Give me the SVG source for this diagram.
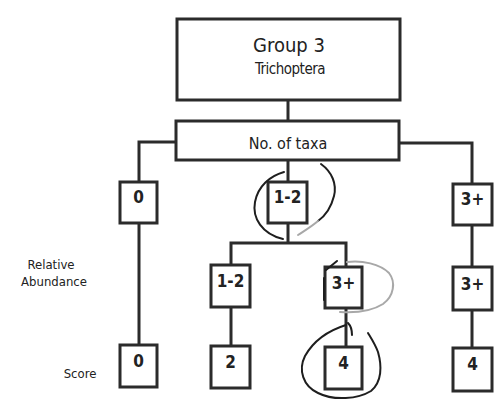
<svg xmlns="http://www.w3.org/2000/svg" width="502" height="405" viewBox="0 0 502 405">
<style>
.box{fill:#fff;stroke:#2b2b2b;stroke-width:3}
.ln{fill:none;stroke:#2b2b2b;stroke-width:3}
text{font-family:"DejaVu Sans Condensed","Liberation Sans Narrow","Liberation Sans",sans-serif;fill:#222;text-anchor:middle}
.num{font-size:17px;font-weight:bold}
.lbl{font-size:13px}
.ann{fill:none;stroke:#1e1e1e;stroke-width:2;stroke-linecap:round}
.ann2{fill:none;stroke:#a8a8a8;stroke-width:2;stroke-linecap:round}
</style>
<rect width="502" height="405" fill="#fff"/>
<g id="connectors">
<path class="ln" d="M288 100V121"/>
<path class="ln" d="M176 142H139V345"/>
<path class="ln" d="M288 160V182"/>
<path class="ln" d="M399 143H472V184"/>
<path class="ln" d="M288 223V243M231 265V243H346V267"/>
<path class="ln" d="M231 307V346"/>
<path class="ln" d="M346 308V347"/>
<path class="ln" d="M472 225V267M472 310V348"/>
</g>
<g id="group3"><rect class="box" x="177" y="19" width="223" height="81"/>
<text x="289" y="52" style="font-size:20px">Group 3</text>
<text x="290" y="74" style="font-size:15px;letter-spacing:-0.5px">Trichoptera</text></g>
<g id="taxa"><rect class="box" x="176" y="121" width="223" height="39"/>
<text x="288" y="149" style="font-size:16px">No. of taxa</text></g>
<g id="n0a"><rect class="box" x="120" y="182" width="37" height="41"/><text class="num" x="138.5" y="203">0</text></g>
<g id="n12a"><rect class="box" x="268" y="182" width="39" height="41"/><text class="num" x="287.5" y="203">1-2</text></g>
<g id="n3a"><rect class="box" x="453" y="184" width="39" height="41"/><text class="num" x="472.5" y="205">3+</text></g>
<g id="n12b"><rect class="box" x="211" y="265" width="39" height="42"/><text class="num" x="230.5" y="287">1-2</text></g>
<g id="n3b"><rect class="box" x="325" y="267" width="37" height="41"/><text class="num" x="343.5" y="289">3+</text></g>
<g id="n3c"><rect class="box" x="453" y="267" width="39" height="43"/><text class="num" x="472.5" y="290">3+</text></g>
<g id="s0"><rect class="box" x="120" y="345" width="37" height="42"/><text class="num" x="138.5" y="367">0</text></g>
<g id="s2"><rect class="box" x="211" y="346" width="39" height="42"/><text class="num" x="230.5" y="368">2</text></g>
<g id="s4a"><rect class="box" x="325" y="347" width="37" height="42"/><text class="num" x="343.5" y="369">4</text></g>
<g id="s4b"><rect class="box" x="453" y="348" width="39" height="43"/><text class="num" x="472.5" y="370">4</text></g>
<g id="labels">
<text class="lbl" x="51" y="269">Relative</text>
<text class="lbl" x="54" y="286">Abundance</text>
<text class="lbl" x="80" y="378">Score</text>
</g>
<g id="annotations">
<path class="ann" d="M284 172C270 176 258 186 255 202C252 218 262 234 283 239"/>
<path class="ann" d="M321 164C332 172 337 184 334 196C331 208 325 216 318 221"/>
<path class="ann2" d="M318 221C311 227 304 231 298 235"/>
<path class="ann2" d="M347 262C362 260 380 264 389 273C396 282 394 296 383 304C372 311 356 313 340 312"/>
<path class="ann" d="M337 261L326 270M324 278V300"/>
<path class="ann" d="M348 323C351 326 352 330 352 335"/>
<path class="ann" d="M346 325C330 330 314 340 305 356C298 370 303 386 318 393C334 401 358 399 371 391C382 382 382 366 378 352C375 344 371 338 368 333"/>
</g>
</svg>
